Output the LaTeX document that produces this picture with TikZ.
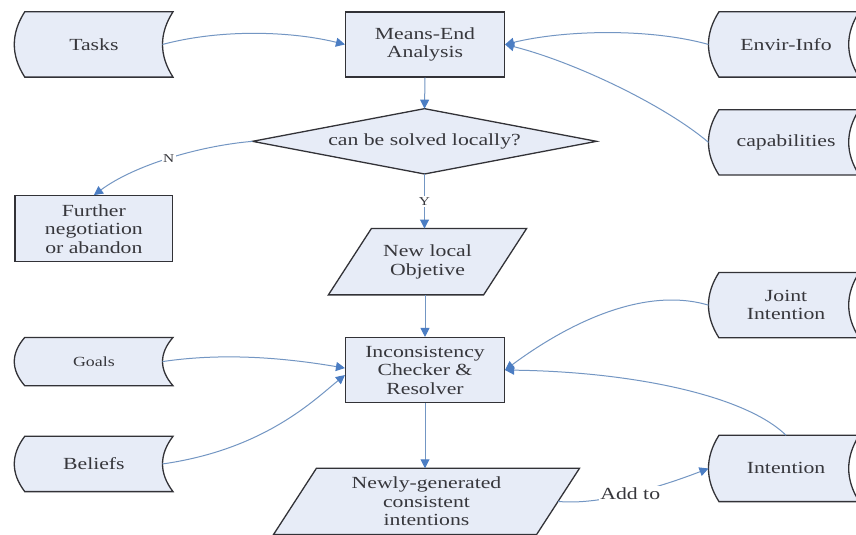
\documentclass[tikz,border=0pt]{standalone}
\usepackage{fontspec}
\setmainfont{Liberation Serif}[FakeStretch=1.28]
\usetikzlibrary{arrows.meta,calc,backgrounds}
\definecolor{fillc}{RGB}{231,236,247}
\definecolor{borderc}{RGB}{50,50,55}
\definecolor{textc}{RGB}{55,55,60}
\definecolor{linec}{RGB}{115,150,195}
\definecolor{arrowc}{RGB}{75,125,195}
\tikzset{
  txt/.style={font=\fontsize{17}{18.5}\selectfont, text=textc, align=center},
  box/.style={txt, rectangle, draw=borderc, fill=fillc, line width=1.3pt, minimum width=159pt, minimum height=65pt, inner sep=0pt},
  ghost/.style={txt, rectangle, inner sep=0pt},
  outline/.style={draw=borderc, fill=fillc, line width=1.3pt, line join=miter},
  conn/.style={draw=linec, line width=1pt, -{Triangle[length=9pt,width=9pt,color=arrowc]}},
  lab/.style={font=\fontsize{12}{14}\selectfont, text=textc, fill=white, inner sep=1.5pt},
  biglab/.style={font=\fontsize{17}{18.5}\selectfont, text=textc, fill=white, inner sep=1.5pt},
}
\newcommand\storeoutline[2]{%
  \path ([xshift=#2]#1.north west) coordinate (#1a)
        ([xshift=#2]#1.south west) coordinate (#1b)
        ([xshift=#2]#1.south east) coordinate (#1c)
        ([xshift=#2]#1.north east) coordinate (#1d);
  \draw[outline] (#1a) .. controls ($(#1a)!1/3!(#1b)+(-14,0)$) and ($(#1a)!2/3!(#1b)+(-14,0)$) .. (#1b)
     -- (#1c) .. controls ($(#1c)!1/3!(#1d)+(-14,0)$) and ($(#1c)!2/3!(#1d)+(-14,0)$) .. (#1d) -- cycle;}
\newcommand\paraoutline[2]{%
  \draw[outline] ([xshift=#2]#1.north west) -- ([xshift=#2]#1.north east)
     -- ([xshift=-#2]#1.south east) -- ([xshift=-#2]#1.south west) -- cycle;}
\begin{document}
\begin{tikzpicture}[x=1pt,y=-1pt]
% nodes
\node[box] (mea) at (425.5,44.5) {Means-End\\Analysis};
\node[ghost, minimum width=344pt, minimum height=65pt] (diam) at (425,141.5) {can be solved locally?};
\node[box, minimum width=158pt, minimum height=66pt] (further) at (94,229) {Further\\negotiation\\or abandon};
\node[ghost, minimum width=155pt, minimum height=66pt] (newloc) at (428,262) {New local\\Objetive};
\node[box] (incon) at (425.5,370.5) {Inconsistency\\Checker \&\\Resolver};
\node[ghost, minimum width=263pt, minimum height=66pt] (newg) at (427,502) {Newly-generated\\consistent\\intentions};
\node[ghost, minimum width=148pt, minimum height=65pt] (tasks) at (94,44.5) {Tasks};
\node[ghost, minimum width=148pt, minimum height=48pt, font=\fontsize{14}{16}\selectfont] (goals) at (94,362) {Goals};
\node[ghost, minimum width=148pt, minimum height=55pt] (beliefs) at (94,464.5) {Beliefs};
\node[ghost, minimum width=140pt, minimum height=65pt] (envir) at (787,44.5) {Envir-Info};
\node[ghost, minimum width=140pt, minimum height=65pt] (capab) at (787,142.5) {capabilities};
\node[ghost, minimum width=140pt, minimum height=65pt] (joint) at (787,305.5) {Joint\\Intention};
\node[ghost, minimum width=140pt, minimum height=66pt] (intent) at (787,469) {Intention};
% shapes behind text
\begin{scope}[on background layer]
  \path[use as bounding box, fill=white] (0,0) rectangle (856,533);
  \storeoutline{tasks}{5pt}
  \storeoutline{goals}{5pt}
  \storeoutline{beliefs}{5pt}
  \storeoutline{envir}{3pt}
  \storeoutline{capab}{3pt}
  \storeoutline{joint}{3pt}
  \storeoutline{intent}{3pt}
  \draw[outline] (diam.north) -- (diam.east) -- (diam.south) -- (diam.west) -- cycle;
  \paraoutline{newloc}{21.5pt}
  \paraoutline{newg}{21.5pt}
\end{scope}
% connectors
\draw[conn] ([xshift=-5.5pt]tasks.east) .. controls (225,28) and (295,32) .. (mea.west);
\draw[conn] ([xshift=-7.5pt]envir.west) .. controls (650,28) and (565,30) .. (mea.east);
\draw[conn] ([xshift=-7.5pt]capab.west) .. controls (665,105) and (575,62) .. (mea.east);
\draw[conn] (mea.south) -- (diam.north);
\draw[conn] (diam.west) .. controls (200,146) and (135,165) .. (further.north) node[lab, pos=0.5] {N};
\draw[conn] (diam.south) -- (newloc.north -| diam.south) node[lab, midway] {Y};
\draw[conn] (newloc.south -| incon.north) -- (incon.north);
\draw[conn] ([xshift=-5.5pt]goals.east) .. controls (230,352) and (295,360) .. ([yshift=2pt]incon.west);
\draw[conn] ([xshift=-5.5pt]beliefs.east) .. controls (265,450) and (315,400) .. ([yshift=-5pt]incon.west);
\draw[conn] (incon.south) -- (newg.north -| incon.south);
\draw[conn] ([xshift=-7.5pt]joint.west) .. controls (640,285) and (560,330) .. (incon.east);
\draw[conn] (intent.north) .. controls (745,395) and (630,372) .. (incon.east);
\draw[conn] (newg.east) .. controls (600,506) and (660,488) .. ([xshift=-7.5pt]intent.west) node[biglab, pos=0.5] {Add to};
\end{tikzpicture}
\end{document}
